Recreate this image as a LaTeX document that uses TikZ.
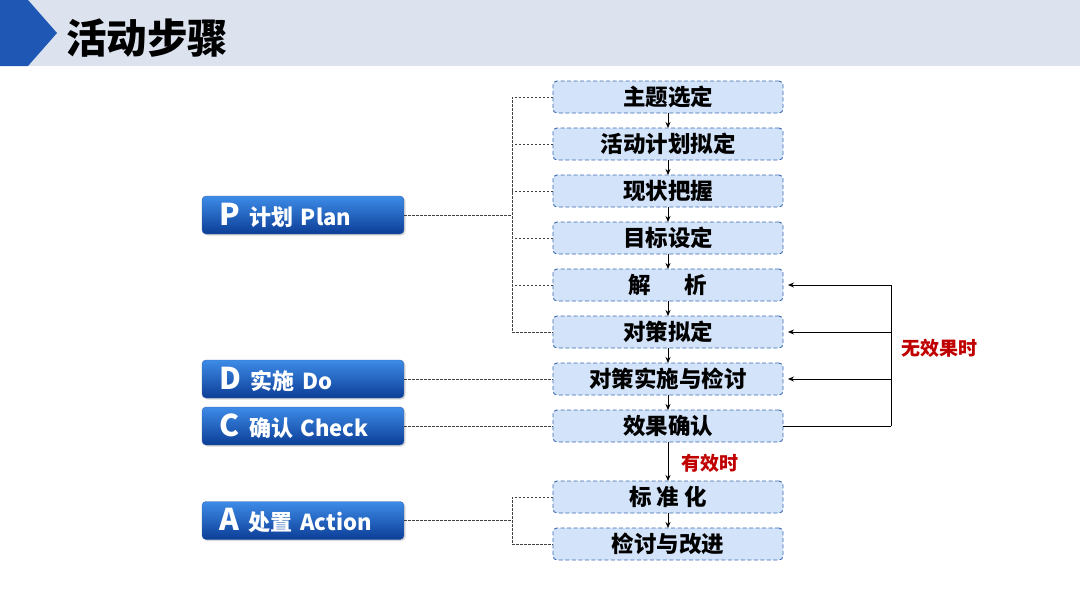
\documentclass[tikz,border=0pt]{standalone}
\usepackage{fontspec}
\setmainfont{Noto Sans CJK SC}
\usepackage{tikz}
\usetikzlibrary{positioning,arrows.meta,shadows,calc}
\definecolor{hdrgray}{HTML}{DCE3EE}
\definecolor{hdrblue}{HTML}{1E58B4}
\definecolor{stepfill}{HTML}{D3E4FA}
\definecolor{stepline}{HTML}{3A68AE}
\definecolor{phasetop}{HTML}{3D8BE8}
\definecolor{phasebot}{HTML}{0C3E96}
\definecolor{notered}{HTML}{C00000}
\newcommand{\phaseletter}[1]{{\fontsize{30}{30}\selectfont #1}\hspace{10pt}}

\begin{document}
\begin{tikzpicture}[x=1pt, y=-1pt,
  node distance=15pt,
  stepbox/.style={draw=stepline, line width=0.9pt, dash pattern=on 4pt off 2.5pt, fill=stepfill,
                  rounded corners=4pt, minimum width=230pt, minimum height=32pt, inner sep=0pt,
                  outer sep=0pt, font=\fontsize{22.5}{22.5}\selectfont\bfseries},
  phase/.style={rounded corners=4pt, top color=phasetop, bottom color=phasebot, draw=phasebot!80,
                minimum width=200pt, minimum height=38pt, text width=168pt, inner xsep=17pt,
                align=left, text=white, font=\fontsize{22}{22}\selectfont\bfseries,
                drop shadow={opacity=0.3, shadow xshift=1.5pt, shadow yshift=-1.5pt}},
  link/.style={draw=black!75, dash pattern=on 2.5pt off 1.5pt, line width=0.7pt},
  flow/.style={-{Stealth[length=6pt, width=5pt]}, line width=0.8pt},
  note/.style={text=notered, font=\fontsize{19}{19}\selectfont\bfseries}]
\useasboundingbox (0,0) rectangle (1080,608);
\fill[hdrgray] (0,0) rectangle (1080,66);
\fill[hdrblue] (0,0) -- (28,0) -- (57,33) -- (28,66) -- (0,66) -- cycle;
\node[anchor=west, inner sep=0pt, font=\fontsize{40.5}{40.5}\selectfont\bfseries] (title) at (66,38) {活动步骤};

\node[stepbox] (s1) at (668,97) {主题选定};
\node[stepbox, below=of s1] (s2) {活动计划拟定};
\node[stepbox, below=of s2] (s3) {现状把握};
\node[stepbox, below=of s3] (s4) {目标设定};
\node[stepbox, below=of s4] (s5) {解\hspace{1.5em}析};
\node[stepbox, below=of s5] (s6) {对策拟定};
\node[stepbox, below=of s6] (s7) {对策实施与检讨};
\node[stepbox, below=of s7] (s8) {效果确认};
\node[stepbox, below=39pt of s8] (s9) {标 准 化};
\node[stepbox, below=of s9] (s10) {检讨与改进};

\node[phase] (P) at (303,215) {\phaseletter{P}计划 Plan};
\node[phase] (D) at (P |- s7) {\phaseletter{D}实施 Do};
\node[phase] (C) at (P |- s8) {\phaseletter{C}确认 Check};
\node[phase] (A) at (P |- {$(s9)!0.5!(s10)$}) {\phaseletter{A}处置 Action};

\coordinate (pbus) at ($(s1.west)+(-41,0)$);
\coordinate (abus) at ($(s9.west)+(-41,0)$);
\draw[link] (s1.west) -- (pbus) |- (s6.west);
\foreach \i in {2,...,5}
  \draw[link] (s\i.west) -- (s\i.west -| pbus);
\draw[link] (P.east) -- (P.east -| pbus);
\draw[link] (D.east) -- (s7.west);
\draw[link] (C.east) -- (s8.west);
\draw[link] (s9.west) -- (abus) |- (s10.west);
\draw[link] (A.east) -- (A.east -| abus);

\foreach \a/\b in {s1/s2,s2/s3,s3/s4,s4/s5,s5/s6,s6/s7,s7/s8,s9/s10}
  \draw[flow] (\a) -- (\b);
\draw[flow] (s8) -- node[note, anchor=west, xshift=10pt, yshift=-2pt] (okfx) {有效时} (s9);

\coordinate (fb) at ($(s8.east)+(108,0)$);
\draw[line width=0.8pt] (s8.east) -- (fb);
\draw[flow] (fb) |- ([xshift=5pt]s5.east);
\draw[flow] (fb |- s6) -- ([xshift=5pt]s6.east);
\draw[flow] (fb |- s7) -- ([xshift=5pt]s7.east);
\node[note, anchor=west] (nofx) at (898,348) {无效果时};
\end{tikzpicture}
\end{document}
